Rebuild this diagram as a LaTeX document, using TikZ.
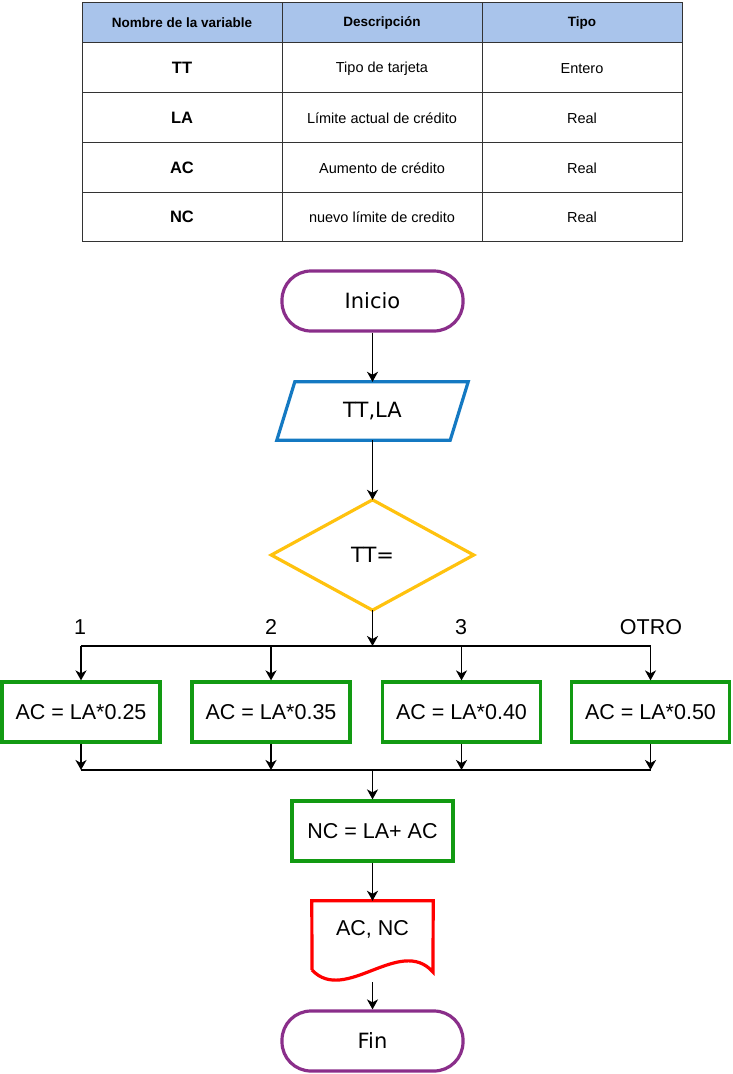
\documentclass[tikz,border=0pt]{standalone}
\usepackage{fontspec}
\setmainfont{Liberation Sans}
\newfontfamily\dejavu{DejaVu Sans}
\usetikzlibrary{arrows.meta}
\definecolor{purp}{HTML}{8A2E8A}
\definecolor{iob}{HTML}{1479C2}
\definecolor{yel}{HTML}{FFC20E}
\definecolor{grn}{HTML}{129A12}
\definecolor{hdrfill}{HTML}{A9C4EB}
\begin{document}
\begin{tikzpicture}[x=1pt,y=-1pt,
  tbl/.style={line width=0.8pt, draw=black!80},
  hdrtxt/.style={font=\bfseries\fontsize{13.5}{16}\selectfont},
  vartxt/.style={font=\bfseries\fontsize{16.5}{19}\selectfont},
  celltxt/.style={font=\fontsize{14.5}{17}\selectfont},
  ftxt/.style={font=\fontsize{21.5}{25}\selectfont},
  djv/.style={font=\dejavu\fontsize{21}{25}\selectfont},
  term/.style={draw=purp, line width=3.2pt, rounded corners=29pt, minimum width=181pt, minimum height=60pt, inner sep=0pt, djv},
  proc/.style={draw=grn, line width=3.2pt, minimum width=158pt, minimum height=60pt, inner sep=0pt, ftxt},
  ghost/.style={inner sep=0pt},
  arr/.style={line width=1.7pt, -{Stealth[length=10pt,width=11pt,inset=3pt]}},
  ln/.style={line width=1.7pt},
  lbl/.style={ftxt, inner sep=0pt}
]
\useasboundingbox (0,0) rectangle (733,1074);

% ---------- table ----------
\fill[hdrfill] (82,2) rectangle (682,42);
\draw[tbl] (82,2) rectangle (682,241);
\draw[tbl] (82,42) -- (682,42);
\draw[tbl] (82,92) -- (682,92);
\draw[tbl] (82,142) -- (682,142);
\draw[tbl] (82,192) -- (682,192);
\draw[tbl] (282,2) -- (282,241);
\draw[tbl] (482,2) -- (482,241);

\node[hdrtxt] (h1) at (182,23) {Nombre de la variable};
\node[hdrtxt] (h2) at (382,23) {Descripción};
\node[hdrtxt] (h3) at (582,23) {Tipo};

\node[vartxt] (v1) at (182,68) {TT};
\node[celltxt] (d1) at (382,68.5) {Tipo de tarjeta};
\node[celltxt] (t1) at (582,68.5) {Entero};

\node[vartxt] (v2) at (182,117.5) {LA};
\node[celltxt] (d2) at (382,118) {Límite actual de crédito};
\node[celltxt] (t2) at (582,118) {Real};

\node[vartxt] (v3) at (182,167.5) {AC};
\node[celltxt] (d3) at (382,168) {Aumento de crédito};
\node[celltxt] (t3) at (582,168) {Real};

\node[vartxt] (v4) at (182,216.5) {NC};
\node[celltxt] (d4) at (382,217) {nuevo límite de credito};
\node[celltxt] (t4) at (582,217) {Real};

% ---------- flowchart ----------
\node[term] (ini) at (372.5,301) {Inicio};

\node[ghost, djv, minimum width=173pt, minimum height=58pt] (io) at (372.5,411) {TT,LA};
\draw[iob, line width=3.2pt, line join=miter]
  ([xshift=9pt]io.north west) -- ([xshift=9pt]io.north east) --
  ([xshift=-9pt]io.south east) -- ([xshift=-9pt]io.south west) -- cycle;

\node[ghost, djv, minimum width=202pt, minimum height=110pt] (dec) at (372.5,555) {TT=};
\draw[yel, line width=3.2pt, line join=miter]
  (dec.north) -- (dec.east) -- (dec.south) -- (dec.west) -- cycle;

\coordinate (split) at (372.5,646);
\coordinate (merge) at (372.5,770);

\node[proc] (b1) at (81,712) {AC = LA*0.25};
\node[proc] (b2) at (271,712) {AC = LA*0.35};
\node[proc] (b3) at (461.5,712) {AC = LA*0.40};
\node[proc] (b4) at (650.5,712) {AC = LA*0.50};

\node[lbl] (l1) at (80,627) {1};
\node[lbl] (l2) at (271,627) {2};
\node[lbl] (l3) at (461,627) {3};
\node[lbl] (l4) at (651,627) {OTRO};

\node[proc, minimum width=161pt] (nc) at (372.5,831) {NC = LA+ AC};

\node[ghost, minimum width=121pt, minimum height=81pt] (doc) at (372.5,941.5) {};
\node[ftxt, inner sep=0pt] (doctxt) at (372.5,929) {AC, NC};
\draw[red, line width=3.2pt, line join=miter]
  (312,970) -- (doc.north west) -- (doc.north east) -- (433,972)
  .. controls (400,935) and (345,1005) .. (312,970);

\node[term] (fin) at (372.5,1041) {Fin};

% ---------- connectors ----------
\draw[arr] (ini) -- (io);
\draw[arr] (io) -- (dec);
\draw[arr] (dec.south) -- (split);
\draw[ln] (b1.north |- split) -- (b4.north |- split);
\draw[arr] (b1.north |- split) -- (b1.north);
\draw[arr] (b2.north |- split) -- (b2.north);
\draw[arr] (b3.north |- split) -- (b3.north);
\draw[arr] (b4.north |- split) -- (b4.north);

\draw[arr] (b1.south) -- (b1.south |- merge);
\draw[arr] (b2.south) -- (b2.south |- merge);
\draw[arr] (b3.south) -- (b3.south |- merge);
\draw[arr] (b4.south) -- (b4.south |- merge);
\draw[ln] (b1.south |- merge) -- (b4.south |- merge);
\draw[arr] (merge) -- (nc);
\draw[arr] (nc) -- (doc);
\draw[arr] (doc) -- (fin);
\end{tikzpicture}
\end{document}
